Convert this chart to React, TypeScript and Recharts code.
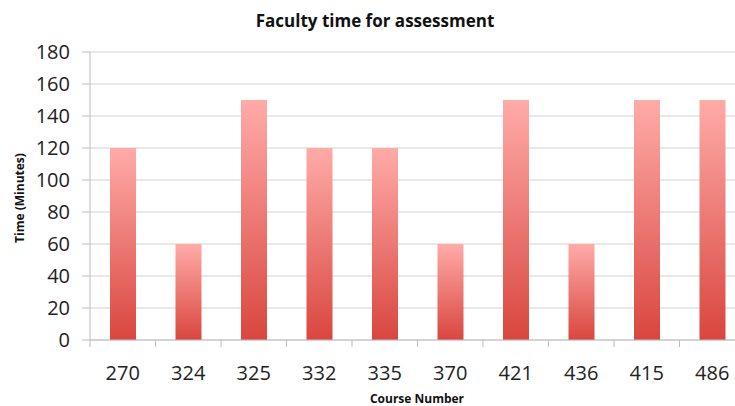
import { Bar, BarChart, CartesianGrid, XAxis, YAxis } from "recharts";

// course numbers along the x axis
const courses = ["270", "324", "325", "332", "335", "370", "421", "436", "415", "486"];
// faculty minutes spent on assessment
const minutes = [120, 60, 150, 120, 120, 60, 150, 60, 150, 150];
const yTicks = [0, 20, 40, 60, 80, 100, 120, 140, 160, 180];

const CHART_W = 750;
const CHART_H = 406;
const PLOT_LEFT = 90;
const MARGIN_RIGHT = 5;
const BAND = (CHART_W - PLOT_LEFT - MARGIN_RIGHT) / courses.length;

const FONT = "'Open Sans', sans-serif";
const AXIS_COLOR = "#bdbdbd";

function CourseTick(props: any) {
  const { x, y, payload } = props;
  const edge = x - BAND / 2;
  return (
    <g>
      <line x1={edge} x2={edge} y1={y} y2={y + 7} stroke={AXIS_COLOR} />
      <text x={x} y={y + 40} textAnchor="middle" fontSize={20} fill="#222" fontFamily={FONT}>
        {payload.value}
      </text>
    </g>
  );
}

export default function App() {
  const chartData = courses.map((course, i) => ({ course, minutes: minutes[i] }));

  return (
    <div
      style={{
        position: "absolute",
        left: 0,
        top: 0,
        width: 735,
        height: 406,
        overflow: "hidden",
        background: "#fff",
        fontFamily: FONT,
      }}
    >
      <div
        style={{
          position: "absolute",
          left: 375,
          top: 20,
          transform: "translate(-50%, -50%)",
          fontSize: 17,
          fontWeight: 700,
          color: "#111",
          whiteSpace: "nowrap",
        }}
      >
        Faculty time for assessment
      </div>
      <div
        style={{
          position: "absolute",
          left: 19,
          top: 198,
          transform: "translate(-50%, -50%) rotate(-90deg)",
          fontSize: 12,
          fontWeight: 700,
          color: "#111",
          whiteSpace: "nowrap",
        }}
      >
        Time (Minutes)
      </div>
      <div
        style={{
          position: "absolute",
          left: 417,
          top: 398,
          transform: "translate(-50%, -50%)",
          fontSize: 12,
          fontWeight: 700,
          color: "#111",
          whiteSpace: "nowrap",
        }}
      >
        Course Number
      </div>
      <BarChart
        width={CHART_W}
        height={CHART_H}
        data={chartData}
        margin={{ top: 52, right: MARGIN_RIGHT, left: 0, bottom: 16 }}
        barSize={26}
      >
        <defs>
          <linearGradient id="barGrad" x1="0" y1="0" x2="0" y2="1">
            <stop offset="0%" stopColor="#ffaba8" />
            <stop offset="100%" stopColor="#d9463f" />
          </linearGradient>
        </defs>
        <CartesianGrid vertical={false} stroke="#d2d2d2" />
        <XAxis
          dataKey="course"
          height={50}
          tick={<CourseTick />}
          tickLine={false}
          tickSize={0}
          tickMargin={0}
          axisLine={{ stroke: AXIS_COLOR }}
          interval={0}
        />
        <YAxis
          width={PLOT_LEFT}
          domain={[0, 180]}
          ticks={yTicks}
          interval={0}
          tickSize={8}
          tickMargin={12}
          tickLine={{ stroke: AXIS_COLOR }}
          axisLine={{ stroke: AXIS_COLOR }}
          tick={{ fontSize: 20, fill: "#222", fontFamily: FONT }}
        />
        <Bar dataKey="minutes" fill="url(#barGrad)" isAnimationActive={false} />
      </BarChart>
    </div>
  );
}
